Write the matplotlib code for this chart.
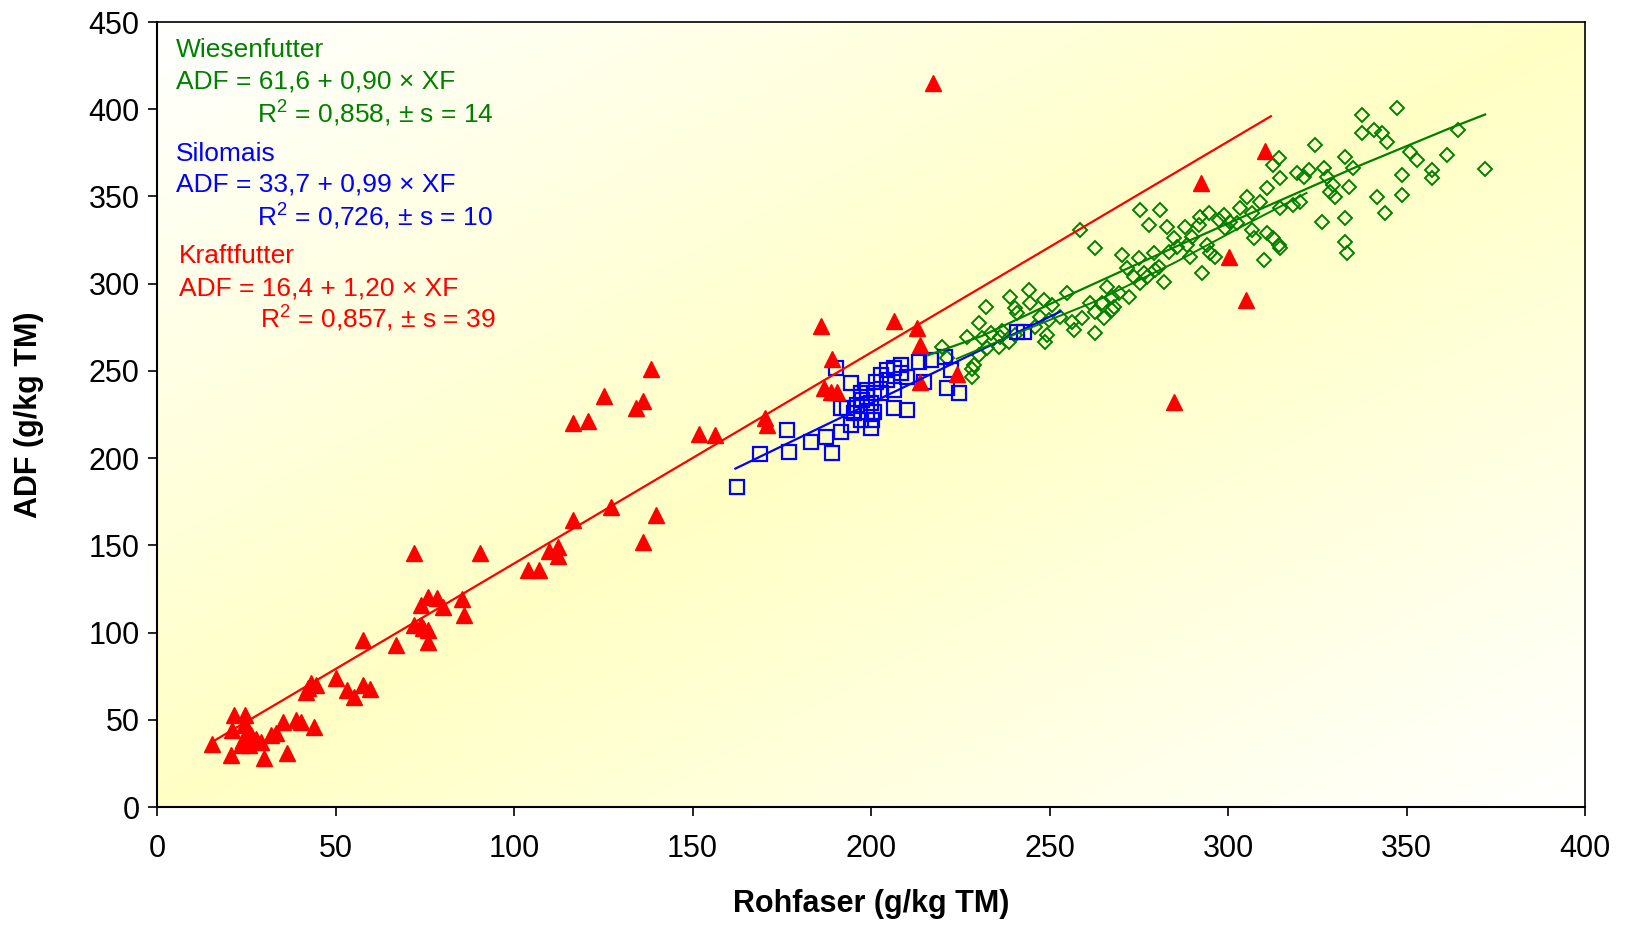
import numpy as np
import matplotlib
matplotlib.use('Agg')
import matplotlib.pyplot as plt

plt.rcParams['font.family'] = ['Liberation Sans', 'DejaVu Sans']
plt.rcParams['mathtext.fontset'] = 'custom'
plt.rcParams['mathtext.rm'] = 'Liberation Sans'

# === Kraftfutter (rote Dreiecke) ===
kraft_xf = [15.3, 21.5, 24.6, 20.9, 24.4, 25.6, 26.3, 23.5, 20.7, 25.8, 29.1, 30.0, 31.9, 35.2,
            38.9, 40.3, 36.4, 43.9, 24.0, 27.8, 33.4,
            43.2, 42.4, 41.7, 44.5, 50.1, 53.2, 55.2, 57.6, 59.7, 57.8, 66.9,
            71.9, 90.5, 75.8, 78.4, 73.9, 80.0, 85.3, 86.0, 71.9, 73.9, 75.8, 75.8, 74.6,
            103.9, 107.1, 109.7, 112.3, 112.3, 116.6, 127.1, 136.1, 139.7,
            116.6, 120.7, 125.2, 136.2, 134.1, 138.3, 151.8, 156.2, 170.2, 170.9,
            186.0, 206.5, 212.9, 213.6, 189.2, 186.8, 188.7, 190.5, 213.6, 224.1,
            217.4, 284.8, 292.3, 300.4, 305.1, 310.3]
kraft_adf = [36.1, 52.7, 52.7, 44.1, 47.0, 44.1, 41.3, 35.5, 29.8, 35.5, 37.4, 27.9, 41.3, 48.9,
             49.9, 48.9, 31.0, 46.0, 38.4, 39.0, 42.5,
             71.3, 68.1, 66.1, 70.0, 73.7, 67.1, 63.2, 69.9, 67.4, 95.7, 92.9,
             145.8, 145.8, 120.6, 119.6, 115.8, 114.8, 119.0, 110.1, 104.4, 104.4, 101.5, 94.8, 102.5,
             136.1, 136.1, 146.8, 149.2, 143.9, 164.5, 172.0, 152.2, 167.4,
             220.3, 221.3, 235.6, 232.9, 228.5, 251.1, 214.1, 213.5, 222.8, 219.0,
             275.7, 278.8, 274.4, 264.8, 257.1, 240.0, 238.0, 238.0, 243.8, 248.5,
             415.0, 231.9, 357.9, 315.1, 290.7, 376.3]

# === Silomais (blaue Quadrate) ===
mais_xf = [190.2, 194.3, 198.9, 201.3, 202.7, 204.5, 206.4, 208.3, 210.1, 208.3, 204.5, 206.4,
           202.7, 200.8, 198.9, 197.1, 197.5, 199.9, 196.1, 193.3, 191.7, 195.2, 198.9, 200.8,
           200.3, 199.9, 197.1, 194.3, 191.5, 187.3, 183.1, 176.5, 177.0, 168.9, 189.1, 206.4,
           210.1, 213.4, 216.7, 214.8, 221.3, 222.3, 224.6, 162.5, 220.8, 240.9, 242.8]
mais_adf = [251.5, 242.9, 239.1, 243.8, 247.6, 250.5, 251.5, 253.4, 246.7, 248.6, 244.8, 239.1,
            237.2, 237.2, 235.2, 237.2, 233.3, 231.4, 230.5, 228.6, 228.6, 225.7, 226.6, 226.6,
            221.9, 217.1, 221.9, 219.0, 215.2, 212.3, 209.4, 216.1, 203.7, 202.4, 203.1, 228.6,
            227.6, 255.3, 256.2, 243.8, 240.0, 250.5, 237.2, 183.6, 258.2, 272.5, 272.5]

# === Wiesenfutter (gruene Rauten) ===
wiese_xf = [219.9, 221.3, 226.9, 228.8, 230.2, 230.2, 231.1, 232.5, 233.5, 235.8, 236.2, 236.7,
            238.6, 239.0, 240.4, 240.4, 240.9, 244.2, 244.6, 246.0, 247.4, 248.4, 248.8, 249.3,
            249.8, 250.7, 253.0, 254.9, 256.3, 256.8, 259.1, 261.4, 262.8, 262.8, 264.7, 265.2,
            266.1, 267.5, 267.5, 228.3, 228.4, 232.1, 258.6, 262.8,
            269.4, 270.3, 271.7, 272.2, 273.6, 275.0, 275.4, 276.4, 277.3, 277.8, 279.2, 280.6,
            281.0, 282.0, 282.9, 283.4, 284.8, 285.7, 268.0, 275.4, 279.6,
            288.0, 288.5, 289.4, 289.9, 291.8, 292.2, 292.7, 294.1, 294.6, 295.0, 296.4, 297.4,
            298.8, 299.2, 300.6, 302.5, 303.4, 305.3, 306.7, 306.7, 307.2, 309.0, 310.0, 310.9,
            310.9, 312.7, 314.2, 314.6, 314.6, 314.6, 312.7, 314.2, 318.3, 319.3, 320.2,
            321.2, 322.6, 324.4, 326.3, 326.8, 327.7, 328.6, 329.5, 330.0, 332.8, 332.8, 332.8,
            333.3, 333.8, 335.1, 337.5, 337.5, 340.8, 341.7, 343.1, 344.5, 344.0, 347.3, 348.7,
            348.7, 351.0, 352.9, 357.0, 357.0, 361.3, 364.3, 372.1]
wiese_adf = [263.9, 257.2, 269.6, 253.4, 277.3, 259.1, 268.7, 263.0, 271.5, 263.9, 269.6, 273.0,
             266.7, 292.5, 285.9, 270.6, 283.0, 296.4, 288.7, 275.3, 281.1, 290.6, 266.7, 270.6,
             279.2, 287.8, 281.1, 294.5, 278.2, 273.4, 280.1, 288.7, 271.5, 283.9, 288.7, 280.1,
             298.3, 284.9, 292.5, 246.7, 251.0, 286.8, 330.8, 320.3,
             294.5, 316.4, 308.8, 292.5, 304.0, 314.5, 342.2, 305.9, 304.0, 333.6, 317.4, 309.7,
             342.2, 301.1, 332.7, 318.3, 326.0, 321.2, 286.8, 300.2, 307.8,
             332.7, 322.2, 315.5, 326.9, 333.6, 338.4, 305.9, 322.2, 340.3, 317.4, 315.5, 336.5,
             339.4, 331.7, 335.5, 334.6, 343.2, 349.9, 340.3, 330.8, 326.0, 347.0, 313.6, 328.9,
             354.7, 326.0, 322.2, 320.3, 343.2, 360.4, 368.0, 371.9, 345.1, 363.3, 347.0,
             361.3, 365.2, 379.5, 335.5, 366.1, 361.3, 352.7, 356.6, 349.9, 372.8, 337.5, 324.1,
             317.4, 355.6, 366.1, 396.7, 386.2, 388.1, 349.9, 386.2, 381.4, 340.3, 400.5, 362.3,
             350.8, 375.7, 370.9, 365.2, 360.4, 373.8, 388.2, 365.6]

# Regressionslinien
kraft_line_x = [16, 312]
kraft_line_y = [38, 396]
mais_line_x = [162, 253]
mais_line_y = [194, 284]
wiese_line_x = [216, 231, 255, 270, 284, 306, 336, 362, 372]
wiese_line_y = [259, 270, 293, 307, 320, 340, 367, 389, 397]
wiese_line2_x = [224, 245, 263, 285, 305, 322]
wiese_line2_y = [257, 275, 290, 312, 334, 352]

GREEN = '#008000'
BLUE = '#0000FF'
RED = '#FF0000'

fig = plt.figure(figsize=(16.26, 9.26), dpi=100)
ax = fig.add_axes([0.0966, 0.1285, 0.8782, 0.8477])

# Hintergrund-Verlauf: weiss in den Ecken oben links / unten rechts, gelb diagonal
u = np.linspace(0, 1, 300)
w = np.linspace(0, 1, 300)
U, W = np.meshgrid(u, w)
d = np.clip(np.abs(U - W), 0, 1)
yellow = np.array([1.0, 1.0, 0.77])
white = np.array([1.0, 1.0, 1.0])
img = yellow[None, None, :] * (1 - d[..., None]) + white[None, None, :] * d[..., None]
ax.imshow(img, extent=[0, 400, 0, 450], origin='lower', aspect='auto',
          interpolation='bilinear', zorder=0)

ax.plot(wiese_xf, wiese_adf, linestyle='none', marker='D', ms=7.6, mfc='none',
        mec=GREEN, mew=1.4, zorder=2)
ax.plot(mais_xf, mais_adf, linestyle='none', marker='s', ms=10.5, mfc='none',
        mec=BLUE, mew=1.6, zorder=3)
ax.plot(kraft_xf, kraft_adf, linestyle='none', marker='^', ms=11, color=RED,
        zorder=4)

ax.plot(kraft_line_x, kraft_line_y, color=RED, lw=1.6, zorder=5)
ax.plot(mais_line_x, mais_line_y, color=BLUE, lw=1.6, zorder=5)
ax.plot(wiese_line_x, wiese_line_y, color=GREEN, lw=1.6, zorder=5)
ax.plot(wiese_line2_x, wiese_line2_y, color=GREEN, lw=1.4, zorder=5)

ax.set_xlim(0, 400)
ax.set_ylim(0, 450)
ax.set_xticks(np.arange(0, 401, 50))
ax.set_yticks(np.arange(0, 451, 50))
ax.tick_params(axis='both', direction='out', length=6.5, width=1.2, labelsize=22)
ax.tick_params(axis='x', pad=13)
ax.tick_params(axis='y', pad=6)
for s in ['left', 'bottom']:
    ax.spines[s].set_linewidth(1.5)
for s in ['top', 'right']:
    ax.spines[s].set_linewidth(1.2)

ax.set_xlabel('Rohfaser (g/kg TM)', fontsize=22, fontweight='bold', va='center')
ax.set_ylabel('ADF (g/kg TM)', fontsize=22, fontweight='bold', va='center')
ax.xaxis.set_label_coords(0.5, -0.124)
ax.yaxis.set_label_coords(-0.09, 0.5)

# Gleichungen
fs = 19
ax.text(5.3, 434, 'Wiesenfutter', color=GREEN, fontsize=fs, va='center', zorder=6)
ax.text(5.3, 416, 'ADF = 61,6 + 0,90 × XF', color=GREEN, fontsize=fs, va='center', zorder=6)
ax.text(28.0, 398, 'R$^2$ = 0,858, ± s = 14', color=GREEN, fontsize=fs, va='center', zorder=6)
ax.text(5.3, 374.5, 'Silomais', color=BLUE, fontsize=fs, va='center', zorder=6)
ax.text(5.3, 356.7, 'ADF = 33,7 + 0,99 × XF', color=BLUE, fontsize=fs, va='center', zorder=6)
ax.text(28.0, 339, 'R$^2$ = 0,726, ± s = 10', color=BLUE, fontsize=fs, va='center', zorder=6)
ax.text(6.2, 315.6, 'Kraftfutter', color=RED, fontsize=fs, va='center', zorder=6)
ax.text(6.2, 297.1, 'ADF = 16,4 + 1,20 × XF', color=RED, fontsize=fs, va='center', zorder=6)
ax.text(28.8, 280.5, 'R$^2$ = 0,857, ± s = 39', color=RED, fontsize=fs, va='center', zorder=6)

fig.savefig('out.png', dpi=100)
